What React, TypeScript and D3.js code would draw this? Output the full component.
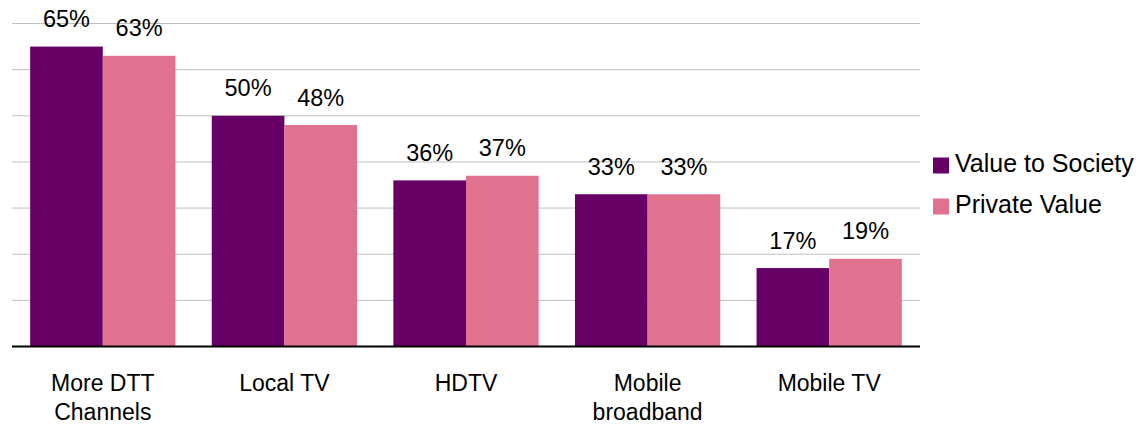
import React from "react";
import * as d3 from "d3";

const categories: string[][] = [
  ["More DTT", "Channels"],
  ["Local TV"],
  ["HDTV"],
  ["Mobile", "broadband"],
  ["Mobile TV"],
];
const seriesNames = ["Value to Society", "Private Value"];
const valueToSociety = [65, 50, 36, 33, 17];
const privateValue = [63, 48, 37, 33, 19];
const gridTicks = [0, 10, 20, 30, 40, 50, 60, 70];
const colors = ["#660066", "#E1728F"];

export default function App() {
  const W = 1145, H = 426;
  const left = 12, right = 920, top = 23.5, bottom = 346.5;
  const keys = categories.map((c) => c.join(" "));
  const x = d3.scaleBand<string>().domain(keys).range([left, right]).paddingInner(0.2).paddingOuter(0.1);
  const x1 = d3.scaleBand<number>().domain([0, 1]).range([0, x.bandwidth()]);
  const y = d3.scaleLinear().domain([0, 70]).range([bottom, top]);
  const series = [valueToSociety, privateValue];
  const font = "'Liberation Sans', Arial, sans-serif";
  return (
    <svg width={W} height={H} style={{ position: "absolute", left: 0, top: 0, background: "#fff" }}>
      {gridTicks.filter((t) => t > 0).map((t) => (
        <line key={t} x1={left} x2={right} y1={y(t)} y2={y(t)} stroke="#bfbfbf" strokeWidth={1} />
      ))}
      {series.map((vals, si) =>
        vals.map((v, i) => {
          const bx = (x(keys[i]) as number) + (x1(si) as number);
          return (
            <g key={`${si}-${i}`}>
              <rect x={bx} y={y(v)} width={x1.bandwidth()} height={bottom - y(v)} fill={colors[si]} />
              <text x={bx + x1.bandwidth() / 2} y={y(v) - 19.5} textAnchor="middle" fontFamily={font} fontSize={23.5} fill="#000">
                {v}%
              </text>
            </g>
          );
        })
      )}
      <line x1={left} x2={right} y1={bottom} y2={bottom} stroke="#000" strokeWidth={2} />
      {categories.map((lines, i) => (
        <text key={i} textAnchor="middle" fontFamily={font} fontSize={23} fill="#000">
          {lines.map((l, j) => (
            <tspan key={j} x={(x(keys[i]) as number) + x.bandwidth() / 2} y={390.5 + j * 29.5}>
              {l}
            </tspan>
          ))}
        </text>
      ))}
      {seriesNames.map((n, i) => (
        <g key={n} transform={`translate(933, ${171.5 + i * 41})`}>
          <rect x={0} y={-14} width={16} height={16} fill={colors[i]} />
          <text x={22} y={0} fontFamily={font} fontSize={25} fill="#000">
            {n}
          </text>
        </g>
      ))}
    </svg>
  );
}
